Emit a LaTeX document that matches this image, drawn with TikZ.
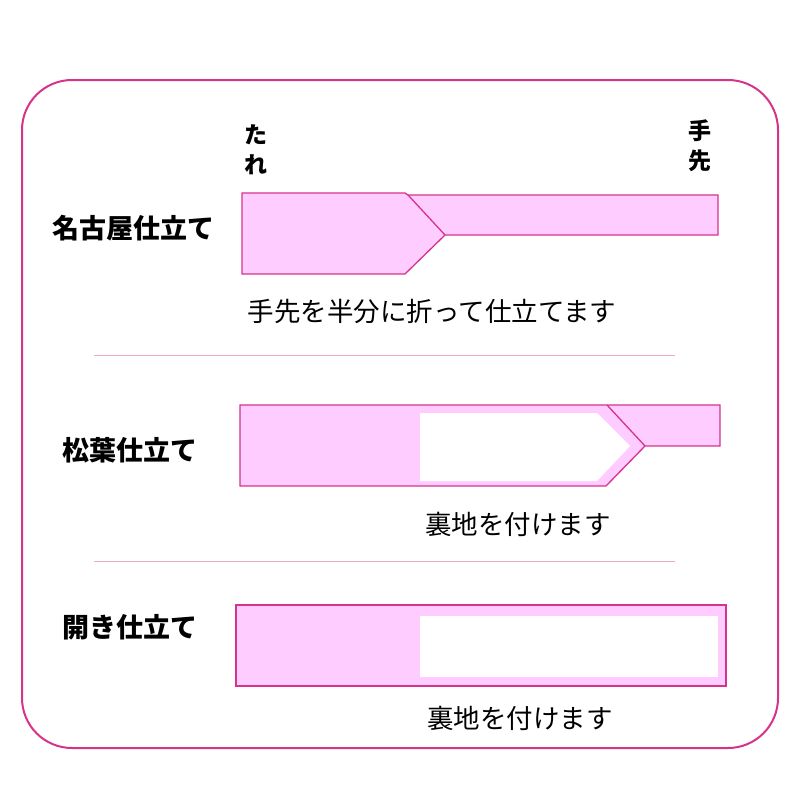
\documentclass[tikz,border=0pt]{standalone}
\usepackage{fontspec}
\setmainfont{Noto Sans CJK JP}
\usepackage{tikz}
\definecolor{obiline}{HTML}{D6338A}
\definecolor{obifill}{HTML}{FFCCFF}
\definecolor{sepline}{HTML}{F0A8C8}
\tikzset{
  obi/.style={fill=obifill, draw=obiline, line width=1.3pt, line join=miter},
  ura/.style={fill=white, draw=none},
  title/.style={font=\fontsize{27}{30}\selectfont\bfseries},
  caption/.style={font=\fontsize{26.5}{30}\selectfont},
  sep/.style={draw=sepline, line width=0.7pt}
}
\begin{document}
\begin{tikzpicture}[x=1pt, y=-1pt]
  \useasboundingbox (0,0) rectangle (800,800);
  \draw[obiline, line width=2pt, rounded corners=50pt] (22,80) rectangle (778,748);

  % nagoya
  \draw[obi] (242,193) -- (405,193) -- (408,195) -- (718,195) -- (718,235)
    -- (445,235) -- (405,274) -- (242,274) -- cycle;
  \draw[obi] (408,195) -- (445,235);
  \node[title] (nagoya) at (133,228) {名古屋仕立て};
  \node[caption] (nagoyacap) at (432,311) {手先を半分に折って仕立てます};
  \node[title, align=center, font=\fontsize{23}{30}\selectfont\bfseries] (tare) at (256,150) {た\\れ};
  \node[title, align=center, font=\fontsize{23}{30}\selectfont\bfseries] (tesaki) at (700,146) {手\\先};

  \draw[sep] (94,355) -- (675,355);

  % matsuba
  \draw[obi] (240,405) -- (720,405) -- (720,446) -- (645,446) -- (606,486)
    -- (240,486) -- cycle;
  \fill[ura] (420,413) -- (597,413) -- (630,446) -- (597,481) -- (420,481) -- cycle;
  \draw[obi, fill=none] (607,405) -- (645,446);
  \node[title] (matsuba) at (130,450) {松葉仕立て};
  \node[caption] (matsubacap) at (518,524) {裏地を付けます};

  \draw[sep] (94,561) -- (675,561);

  % hiraki
  \draw[obi] (236,605) rectangle (726,686);
  \fill[ura] (420,616) rectangle (718,677);
  \node[title] (hiraki) at (130,627) {開き仕立て};
  \node[caption] (hirakicap) at (520,718) {裏地を付けます};
\end{tikzpicture}
\end{document}
